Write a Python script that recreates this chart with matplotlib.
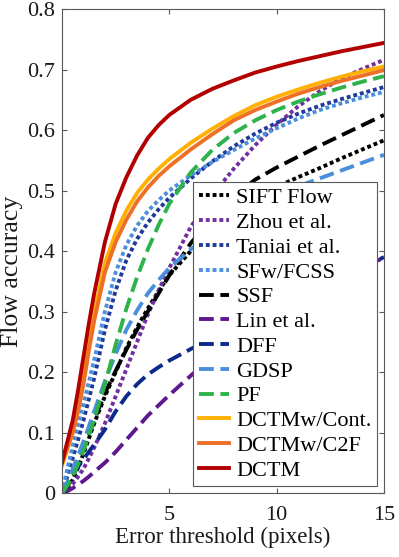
import matplotlib

matplotlib.use("Agg")
import matplotlib.pyplot as plt


# error threshold (pixels)
thresholds = [0, 0.25, 0.5, 0.75, 1, 1.25, 1.5, 2, 2.5, 3, 3.5, 4, 4.5, 5,
              6, 7, 8, 9, 10, 11, 12, 13, 14, 15]

sift_flow = [0, 0.008, 0.022, 0.042, 0.065, 0.09, 0.115, 0.16, 0.2, 0.24, 0.274, 0.305, 0.334, 0.36,
             0.40, 0.435, 0.464, 0.487, 0.506, 0.522, 0.537, 0.553, 0.568, 0.583]
zhou = [0, 0.006, 0.015, 0.027, 0.04, 0.057, 0.075, 0.115, 0.16, 0.205, 0.25, 0.295, 0.335, 0.372,
        0.44, 0.492, 0.536, 0.575, 0.609, 0.639, 0.664, 0.685, 0.701, 0.716]
taniai = [0, 0.028, 0.058, 0.088, 0.12, 0.155, 0.19, 0.27, 0.335, 0.385, 0.42, 0.447, 0.469, 0.488,
          0.52, 0.548, 0.573, 0.594, 0.612, 0.627, 0.64, 0.651, 0.661, 0.671]
sfw_fcss = [0, 0.04, 0.078, 0.113, 0.148, 0.183, 0.22, 0.30, 0.365, 0.41, 0.442, 0.466, 0.484, 0.5,
            0.525, 0.547, 0.567, 0.586, 0.603, 0.619, 0.633, 0.644, 0.654, 0.663]
ssf = [0, 0.01, 0.028, 0.05, 0.073, 0.097, 0.12, 0.165, 0.202, 0.237, 0.27, 0.30, 0.33, 0.36,
       0.413, 0.455, 0.49, 0.518, 0.538, 0.556, 0.574, 0.591, 0.608, 0.625]
lin = [0, 0.003, 0.008, 0.014, 0.02, 0.027, 0.035, 0.05, 0.068, 0.088, 0.108, 0.128, 0.145, 0.162,
       0.194, 0.225, 0.254, 0.281, 0.305, 0.327, 0.346, 0.362, 0.376, 0.388]
dff = [0, 0.015, 0.03, 0.043, 0.056, 0.068, 0.08, 0.105, 0.135, 0.16, 0.18, 0.196, 0.208, 0.219,
       0.238, 0.256, 0.274, 0.291, 0.307, 0.323, 0.339, 0.355, 0.372, 0.39]
gdsp = [0, 0.018, 0.04, 0.062, 0.085, 0.11, 0.135, 0.185, 0.23, 0.27, 0.302, 0.33, 0.352, 0.372,
        0.403, 0.43, 0.454, 0.475, 0.492, 0.507, 0.52, 0.533, 0.546, 0.559]
pf = [0, 0.012, 0.028, 0.048, 0.07, 0.095, 0.122, 0.18, 0.245, 0.305, 0.357, 0.403, 0.443, 0.478,
      0.53, 0.567, 0.595, 0.616, 0.633, 0.647, 0.659, 0.67, 0.68, 0.689]
dctm_cont = [0.045, 0.072, 0.10, 0.14, 0.19, 0.245, 0.298, 0.38, 0.43, 0.467, 0.496, 0.518, 0.536, 0.552,
             0.579, 0.602, 0.623, 0.641, 0.655, 0.667, 0.678, 0.688, 0.697, 0.705]
dctm_c2f = [0.05, 0.075, 0.10, 0.135, 0.18, 0.235, 0.285, 0.365, 0.415, 0.452, 0.482, 0.505, 0.524, 0.54,
            0.568, 0.593, 0.616, 0.633, 0.647, 0.66, 0.671, 0.681, 0.69, 0.699]
dctm = [0.05, 0.085, 0.12, 0.17, 0.225, 0.28, 0.33, 0.415, 0.478, 0.522, 0.558, 0.587, 0.608, 0.625,
        0.65, 0.668, 0.682, 0.695, 0.705, 0.714, 0.722, 0.73, 0.737, 0.744]

method_names = [
    "SIFT Flow", "Zhou et al.", "Taniai et al.", "SFw/FCSS", "SSF", "Lin et al.",
    "DFF", "GDSP", "PF", "DCTMw/Cont.", "DCTMw/C2F", "DCTM",
]

x_ticks = [5, 10, 15]
y_ticks = [0, 0.1, 0.2, 0.3, 0.4, 0.5, 0.6, 0.7, 0.8]

DOTTED = (0, (1, 0.75))
DASHED = (0, (3.8, 1.7))
SOLID = "-"

STYLES = [
    ("#000000", DOTTED),
    ("#7030A0", DOTTED),
    ("#1F3A9A", DOTTED),
    ("#4A8FDB", DOTTED),
    ("#000000", DASHED),
    ("#5E1990", DASHED),
    ("#0B2A8C", DASHED),
    ("#4A8FDB", DASHED),
    ("#2DB34A", DASHED),
    ("#FFB000", SOLID),
    ("#EE7027", SOLID),
    ("#B20000", SOLID),
]


def main():
    plt.rcParams["font.family"] = ["Liberation Serif", "DejaVu Serif"]

    series = [sift_flow, zhou, taniai, sfw_fcss, ssf, lin, dff, gdsp, pf,
              dctm_cont, dctm_c2f, dctm]

    fig = plt.figure(figsize=(3.99, 5.57), dpi=100)
    ax = fig.add_axes([0.1554, 0.1149, 0.8070, 0.8689])

    for values, name, (color, style) in zip(series, method_names, STYLES):
        ax.plot(thresholds, values, color=color, linestyle=style,
                linewidth=2.8, label=name, dash_capstyle="butt")

    ax.set_xlim(0, 15)
    ax.set_ylim(0, 0.8)
    ax.set_xticks(x_ticks)
    ax.set_yticks(y_ticks)
    ax.set_yticklabels(["0"] + [f"{v:.1f}" for v in y_ticks[1:]])

    for spine in ax.spines.values():
        spine.set_color("0.35")
        spine.set_linewidth(0.8)

    ax.tick_params(direction="in", top=True, right=True, length=3.5,
                   width=0.8, color="0.35", labelsize=16, labelcolor="#1a1a1a")
    ax.tick_params(axis="x", pad=9)
    ax.tick_params(axis="y", pad=5)

    ax.set_xlabel("Error threshold (pixels)", fontsize=16.5, color="#1a1a1a", labelpad=2)
    ax.set_ylabel("Flow accuracy", fontsize=18.5, color="#1a1a1a")
    ax.yaxis.set_label_coords(-0.122, 0.457)

    legend = ax.legend(loc="lower right", fontsize=16, frameon=True, fancybox=False,
                       edgecolor="0.35", framealpha=1, handlelength=1.35,
                       handletextpad=0.35, labelspacing=0.19, borderpad=0.25,
                       borderaxespad=0.3)
    legend.get_frame().set_linewidth(0.8)

    fig.savefig("out.png", dpi=100)
    plt.close(fig)


if __name__ == "__main__":
    main()
